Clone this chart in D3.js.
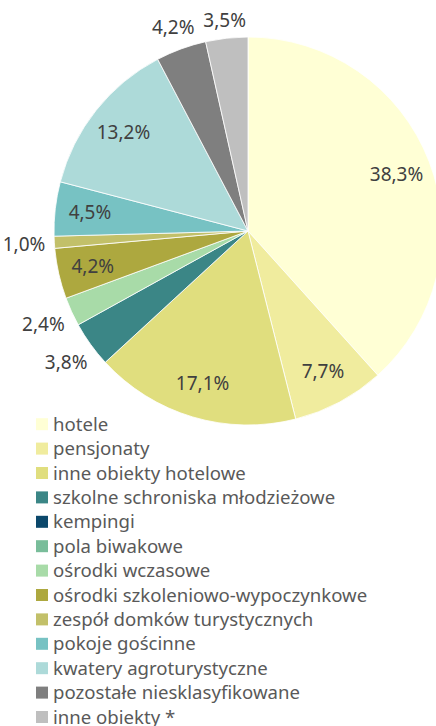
<!DOCTYPE html>
<html>
<head>
<meta charset="utf-8">
<script src="https://cdn.jsdelivr.net/npm/d3@7"></script>
<style>
  body { margin: 0; background: #fff; }
  svg text { font-family: "Noto Sans", "Open Sans", sans-serif; }
</style>
</head>
<body>
<div id="chart-area"></div>
<script>
// categories, shares (%) and colours
var categories = ["hotele", "pensjonaty", "inne obiekty hotelowe", "szkolne schroniska młodzieżowe",
    "kempingi", "pola biwakowe", "ośrodki wczasowe", "ośrodki szkoleniowo-wypoczynkowe",
    "zespół domków turystycznych", "pokoje gościnne", "kwatery agroturystyczne",
    "pozostałe niesklasyfikowane", "inne obiekty *"];
var shares = [38.3, 7.7, 17.1, 3.8, 0, 0, 2.4, 4.2, 1.0, 4.5, 13.2, 4.2, 3.5];
var colors = ["#FFFFD5", "#F0EC9E", "#E0DE7E", "#3B8686", "#0B486B", "#79BD9A", "#A8DBA8",
    "#ADA83F", "#C2C069", "#77C2C3", "#ADDAD9", "#7F7F7F", "#BFBFBF"];

var width = 436, height = 726;
var cx = 248, cy = 231, R = 194;

var svg = d3.select("#chart-area").append("svg")
    .attr("width", width)
    .attr("height", height);

var data = categories.map((c, i) => ({ name: c, value: shares[i], color: colors[i] }));

var pie = d3.pie().sort(null).value((d) => d.value);
var arcs = pie(data);
var arc = d3.arc().innerRadius(0).outerRadius(R);

var g = svg.append("g").attr("transform", "translate(" + cx + "," + cy + ")");

g.selectAll("path")
    .data(arcs.filter((a) => a.data.value > 0))
    .enter()
    .append("path")
    .attr("d", arc)
    .attr("fill", (d) => d.data.color)
    .attr("stroke", "#fff")
    .attr("stroke-width", 0.8);

// labels: big slices inside, small ones just outside the rim
var outside = ["szkolne schroniska młodzieżowe", "ośrodki wczasowe", "zespół domków turystycznych",
    "pozostałe niesklasyfikowane", "inne obiekty *"];
var fmt = (v) => v.toFixed(1).replace(".", ",") + "%";

g.selectAll("text.lbl")
    .data(arcs.filter((a) => a.data.value > 0))
    .enter()
    .append("text")
    .attr("class", "lbl")
    .attr("text-anchor", "middle")
    .attr("dy", "0.35em")
    .attr("font-size", 19)
    .attr("fill", "#404040")
    .attr("transform", (d) => {
        var a = (d.startAngle + d.endAngle) / 2;
        var s = Math.sin(a), c = Math.cos(a);
        var r = outside.indexOf(d.data.name) >= 0
            ? R + 9 + Math.abs(s) * 21 + Math.abs(c) * 7
            : R * 0.82;
        return "translate(" + (s * r) + "," + (-c * r) + ")";
    })
    .text((d) => fmt(d.data.value));

// legend
var y = d3.scaleBand().domain(categories).range([412, 412 + 24.4 * categories.length]);

var leg = svg.selectAll("g.leg")
    .data(data)
    .enter()
    .append("g")
    .attr("class", "leg")
    .attr("transform", (d) => "translate(36," + (y(d.name) + y.bandwidth() / 2) + ")");

leg.append("rect")
    .attr("x", 0)
    .attr("y", -6)
    .attr("width", 12)
    .attr("height", 12)
    .attr("fill", (d) => d.color);

leg.append("text")
    .attr("x", 17)
    .attr("dy", "0.35em")
    .attr("font-size", 18.6)
    .attr("fill", "#595959")
    .text((d) => d.name);
</script>
</body>
</html>
